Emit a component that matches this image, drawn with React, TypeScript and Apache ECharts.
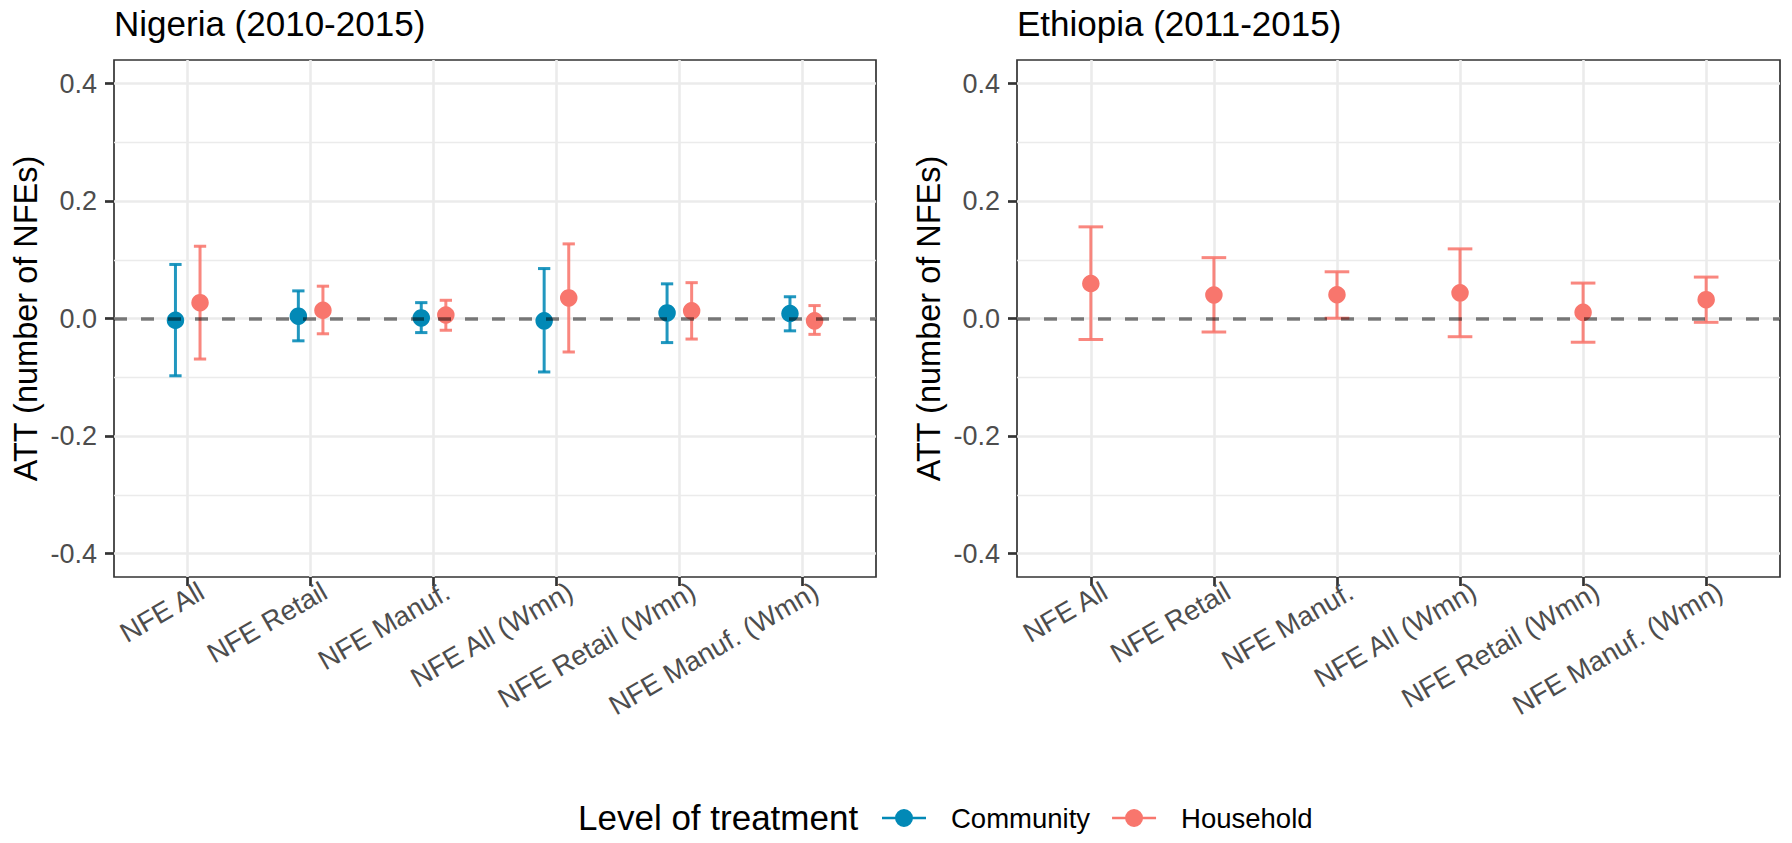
import React, { useEffect, useRef } from "react";
import * as echarts from "echarts";

const FONT = "'Liberation Sans', Arial, Helvetica, sans-serif";

const categories = [
  "NFE All",
  "NFE Retail",
  "NFE Manuf.",
  "NFE All (Wmn)",
  "NFE Retail (Wmn)",
  "NFE Manuf. (Wmn)",
];

const yTicks = [-0.4, -0.2, 0, 0.2, 0.4];
const yMinor = [-0.3, -0.1, 0.1, 0.3];

// Nigeria (2010-2015)
const ngCommunityEst = [-0.003, 0.004, 0.001, -0.004, 0.0095, 0.0085];
const ngCommunityLow = [-0.0975, -0.038, -0.024, -0.091, -0.041, -0.021];
const ngCommunityHigh = [0.092, 0.047, 0.027, 0.085, 0.059, 0.037];

const ngHouseholdEst = [0.027, 0.014, 0.006, 0.035, 0.013, -0.004];
const ngHouseholdLow = [-0.069, -0.026, -0.02, -0.057, -0.035, -0.027];
const ngHouseholdHigh = [0.123, 0.055, 0.031, 0.127, 0.061, 0.022];

// Ethiopia (2011-2015)
const etHouseholdEst = [0.0595, 0.04, 0.0405, 0.0437, 0.0105, 0.032];
const etHouseholdLow = [-0.0357, -0.023, 0.0005, -0.031, -0.0404, -0.0065];
const etHouseholdHigh = [0.156, 0.1036, 0.0795, 0.1185, 0.0603, 0.0705];

const COMMUNITY = "#0289B6";
const HOUSEHOLD = "#F8766D";

const LEGEND_ICON =
  "path://M0,7.7L44,7.7L44,10.3L0,10.3Z M13,9A9,9,0,1,1,31,9A9,9,0,1,1,13,9Z";

function errorBarSeries(
  name: string,
  gridIdx: number,
  low: number[],
  high: number[],
  offset: number,
  capWidth: number,
  color: string
) {
  return {
    type: "custom",
    name,
    xAxisIndex: gridIdx,
    yAxisIndex: gridIdx,
    z: 3,
    silent: true,
    data: low.map((l, i) => [i + offset, l, high[i]]),
    renderItem: (params: any, api: any) => {
      const x = api.value(0);
      const lo = api.value(1);
      const hi = api.value(2);
      const top = api.coord([x, hi]);
      const bot = api.coord([x, lo]);
      const half = api.size([capWidth, 0])[0] / 2;
      const style = { stroke: color, lineWidth: 3, opacity: 0.88 };
      return {
        type: "group",
        children: [
          { type: "line", shape: { x1: top[0], y1: top[1], x2: bot[0], y2: bot[1] }, style },
          { type: "line", shape: { x1: top[0] - half, y1: top[1], x2: top[0] + half, y2: top[1] }, style },
          { type: "line", shape: { x1: bot[0] - half, y1: bot[1], x2: bot[0] + half, y2: bot[1] }, style },
        ],
      };
    },
  };
}

function pointSeries(name: string, gridIdx: number, est: number[], offset: number, color: string) {
  return {
    type: "scatter",
    name,
    xAxisIndex: gridIdx,
    yAxisIndex: gridIdx,
    z: 4,
    silent: true,
    symbol: "circle",
    symbolSize: 17.5,
    itemStyle: { color, opacity: 1 },
    data: est.map((v, i) => [i + offset, v]),
  };
}

function helperLines(gridIdx: number) {
  return [
    {
      type: "line",
      name: "minor" + gridIdx,
      xAxisIndex: gridIdx,
      yAxisIndex: gridIdx,
      data: [],
      silent: true,
      markLine: {
        silent: true,
        z: 0.5,
        symbol: "none",
        label: { show: false },
        lineStyle: { type: "solid", color: "#EBEBEB", width: 1.3 },
        data: yMinor.map((v) => ({ yAxis: v })),
      },
    },
    {
      type: "line",
      name: "zero" + gridIdx,
      xAxisIndex: gridIdx,
      yAxisIndex: gridIdx,
      data: [],
      silent: true,
      markLine: {
        silent: true,
        z: 6,
        symbol: "none",
        label: { show: false },
        lineStyle: { type: [13, 14], color: "rgba(0,0,0,0.5)", width: 3.5 },
        data: [{ yAxis: 0 }],
      },
    },
  ];
}

const catTicks = categories.map((_, i) => i);

export default function App() {
  const ref = useRef<HTMLDivElement>(null);

  useEffect(() => {
    if (!ref.current) return;
    const chart = echarts.init(ref.current, undefined, { renderer: "svg" });
    const grids = [
      { left: 114, top: 60, width: 762, height: 517 },
      { left: 1017, top: 60, width: 763, height: 517 },
    ];
    const titleStyle = { fontSize: 35, fontWeight: "normal", color: "#000", fontFamily: FONT };
    const option: any = {
      animation: false,
      backgroundColor: "#ffffff",
      textStyle: { fontFamily: FONT },
      title: [
        { text: "Nigeria (2010-2015)", left: 114, top: 6, padding: 0, textStyle: titleStyle },
        { text: "Ethiopia (2011-2015)", left: 1017, top: 6, padding: 0, textStyle: titleStyle },
        {
          text: "Level of treatment",
          left: 578,
          top: 800,
          padding: 0,
          textStyle: { fontSize: 35, fontWeight: "normal", color: "#000", fontFamily: FONT },
        },
      ],
      legend: {
        data: [
          { name: "Community", icon: LEGEND_ICON },
          { name: "Household", icon: LEGEND_ICON },
        ],
        left: 882,
        top: 804,
        padding: 0,
        itemWidth: 44,
        itemHeight: 18,
        itemGap: 22,
        selectedMode: false,
        textStyle: { fontSize: 27.5, color: "#000", fontFamily: FONT, padding: [0, 0, 0, 20] },
      },
      grid: grids.map((g) => ({
        ...g,
        show: true,
        borderColor: "#333333",
        borderWidth: 1.7,
        backgroundColor: "transparent",
        containLabel: false,
      })),
      xAxis: [0, 1].map((i) => ({
        type: "value",
        gridIndex: i,
        min: -0.6,
        max: 5.6,
        position: "bottom",
        axisLine: { show: false, onZero: false },
        axisTick: {
          show: true,
          customValues: catTicks,
          length: 9,
          lineStyle: { color: "#333333", width: 2.7 },
        },
        axisLabel: {
          customValues: catTicks,
          formatter: (v: number) => categories[Math.round(v)],
          rotate: 30,
          align: "right",
          verticalAlign: "top",
          margin: 4,
          padding: [0, -8, 0, 0],
          fontSize: 27.5,
          color: "#4D4D4D",
          fontFamily: FONT,
        },
        splitLine: { show: true, lineStyle: { color: "#EBEBEB", width: 2.6 } },
      })),
      yAxis: [0, 1].map((i) => ({
        type: "value",
        gridIndex: i,
        min: -0.44,
        max: 0.44,
        position: "left",
        name: "ATT (number of NFEs)",
        nameLocation: "middle",
        nameGap: 72,
        nameTextStyle: { fontSize: 32.5, color: "#000", fontFamily: FONT },
        axisLine: { show: false, onZero: false },
        axisTick: {
          show: true,
          customValues: yTicks,
          length: 9,
          lineStyle: { color: "#333333", width: 2.7 },
        },
        axisLabel: {
          customValues: yTicks,
          formatter: (v: number) => v.toFixed(1),
          margin: 17,
          fontSize: 27,
          color: "#4D4D4D",
          fontFamily: FONT,
        },
        splitLine: { show: true, lineStyle: { color: "#EBEBEB", width: 2.6 } },
      })),
      series: [
        ...helperLines(0),
        ...helperLines(1),
        errorBarSeries("Community CI", 0, ngCommunityLow, ngCommunityHigh, -0.1, 0.1, COMMUNITY),
        errorBarSeries("Household CI", 0, ngHouseholdLow, ngHouseholdHigh, 0.1, 0.1, HOUSEHOLD),
        errorBarSeries("Household CI ET", 1, etHouseholdLow, etHouseholdHigh, 0, 0.2, HOUSEHOLD),
        pointSeries("Community", 0, ngCommunityEst, -0.1, COMMUNITY),
        pointSeries("Household", 0, ngHouseholdEst, 0.1, HOUSEHOLD),
        pointSeries("Household", 1, etHouseholdEst, 0, HOUSEHOLD),
      ],
    };
    chart.setOption(option);
    return () => chart.dispose();
  }, []);

  return (
    <div
      ref={ref}
      style={{ position: "fixed", left: 0, top: 0, width: 1792, height: 843, background: "#fff" }}
    />
  );
}
